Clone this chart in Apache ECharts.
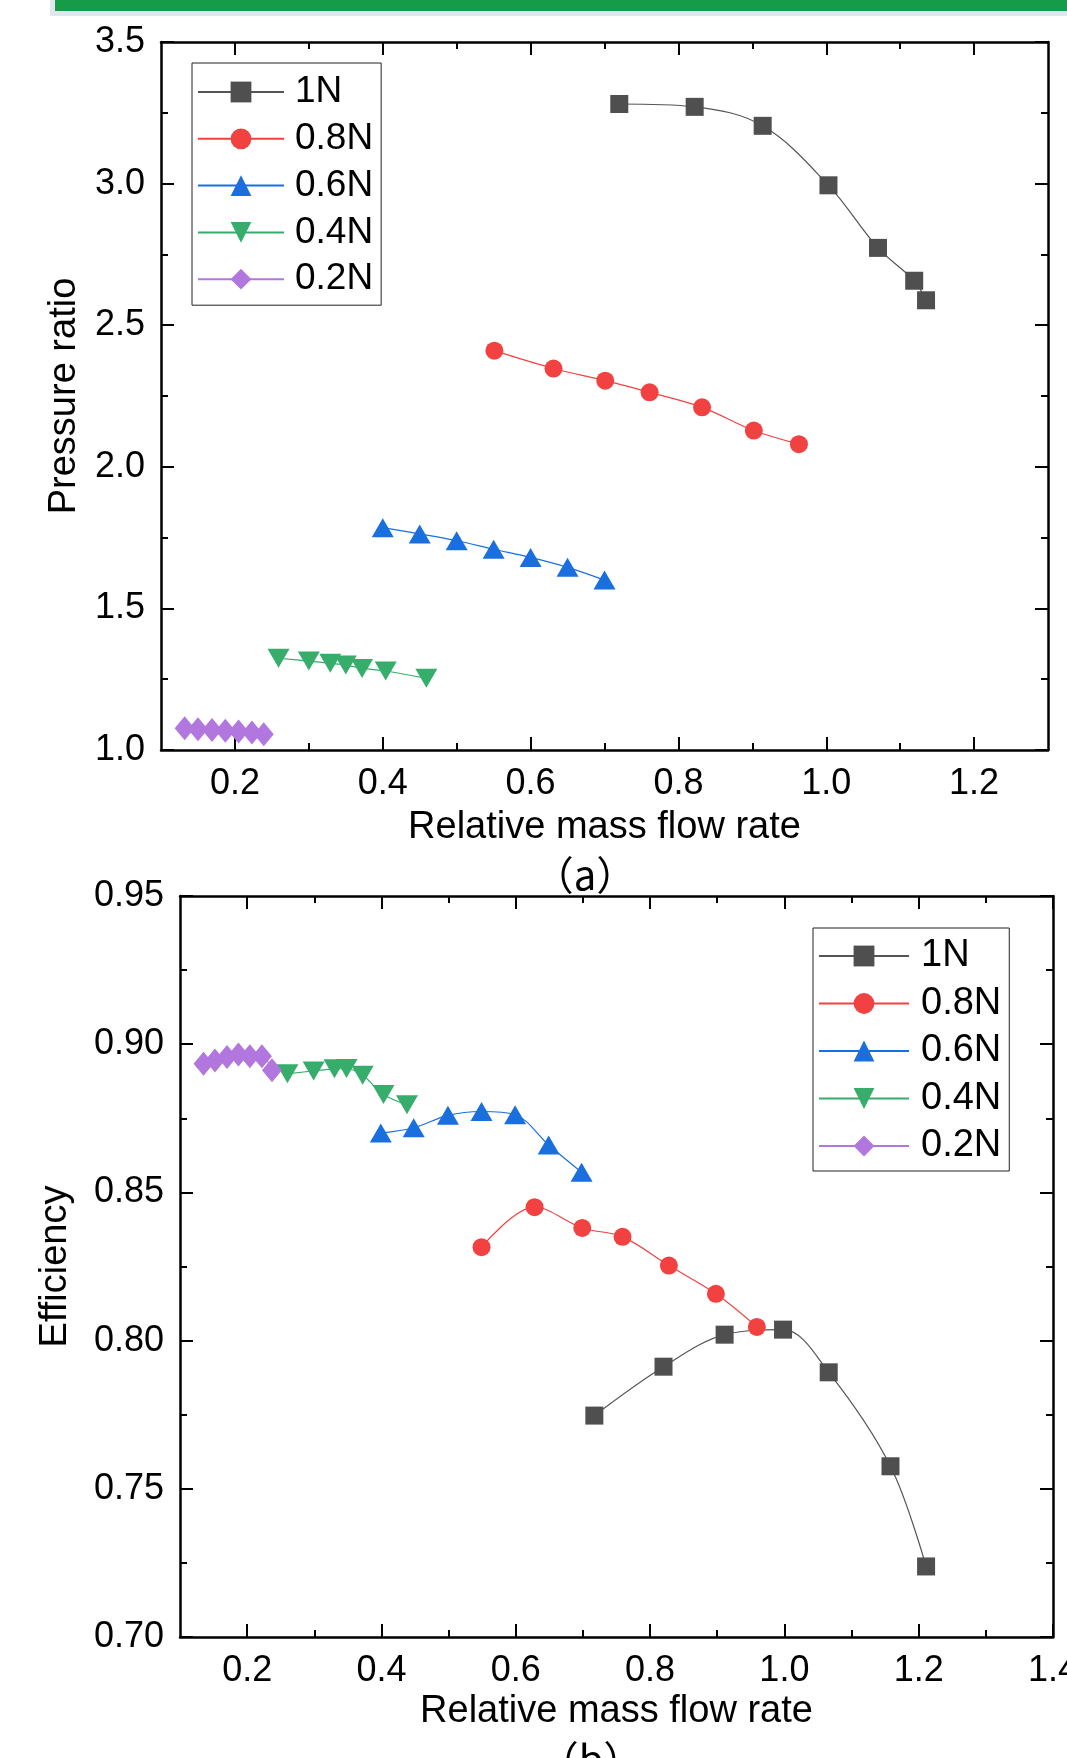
<!DOCTYPE html>
<html><head><meta charset="utf-8">
<script src="https://cdn.jsdelivr.net/npm/echarts@6/dist/echarts.min.js"></script>
<style>html,body{margin:0;padding:0;background:#fff}#c{width:1067px;height:1758px}</style>
</head><body><div id="c"></div>
<script>
const seriesNames = ['1N', '0.8N', '0.6N', '0.4N', '0.2N'];
// (a) Pressure ratio vs relative mass flow rate
const a_x_1N  = [0.720, 0.822, 0.914, 1.003, 1.070, 1.119, 1.135];
const a_y_1N  = [3.281, 3.271, 3.204, 2.994, 2.773, 2.657, 2.588];
const a_x_08N = [0.551, 0.631, 0.701, 0.761, 0.832, 0.902, 0.963];
const a_y_08N = [2.410, 2.347, 2.304, 2.263, 2.210, 2.128, 2.080];
const a_x_06N = [0.400, 0.450, 0.500, 0.550, 0.600, 0.650, 0.700];
const a_y_06N = [1.785, 1.763, 1.739, 1.709, 1.680, 1.645, 1.600];
const a_x_04N = [0.259, 0.300, 0.329, 0.350, 0.372, 0.404, 0.459];
const a_y_04N = [1.324, 1.314, 1.306, 1.300, 1.288, 1.279, 1.253];
const a_x_02N = [0.132, 0.150, 0.169, 0.187, 0.205, 0.223, 0.239];
const a_y_02N = [1.077, 1.073, 1.071, 1.068, 1.065, 1.062, 1.056];
// (b) Efficiency vs relative mass flow rate
const b_x_1N  = [0.717, 0.820, 0.911, 0.998, 1.066, 1.158, 1.211];
const b_y_1N  = [0.7747, 0.7912, 0.8020, 0.8037, 0.7893, 0.7576, 0.7238];
const b_x_08N = [0.549, 0.628, 0.699, 0.759, 0.828, 0.898, 0.959];
const b_y_08N = [0.8315, 0.8450, 0.8380, 0.8350, 0.8253, 0.8158, 0.8046];
const b_x_06N = [0.399, 0.448, 0.499, 0.549, 0.599, 0.649, 0.698];
const b_y_06N = [0.8700, 0.8718, 0.8760, 0.8773, 0.8762, 0.8660, 0.8568];
const b_x_04N = [0.260, 0.299, 0.330, 0.348, 0.372, 0.403, 0.438];
const b_y_04N = [0.8900, 0.8910, 0.8917, 0.8918, 0.8895, 0.8830, 0.8796];
const b_x_02N = [0.135, 0.152, 0.170, 0.187, 0.204, 0.222, 0.237];
const b_y_02N = [0.8934, 0.8945, 0.8957, 0.8965, 0.8959, 0.8959, 0.8912];
// tick values
const a_xMajor = [0.2, 0.4, 0.6, 0.8, 1.0, 1.2];
const a_xMinor = [0.3, 0.5, 0.7, 0.9, 1.1];
const b_xMajor = [0.2, 0.4, 0.6, 0.8, 1.0, 1.2, 1.4];
const b_xMinor = [0.3, 0.5, 0.7, 0.9, 1.1, 1.3];

const FONT = '"Liberation Sans", Arial, sans-serif';
const colors = ['#4f4f4f', '#f14141', '#1a6fdf', '#37ad6b', '#b177de'];
const lineColors = ['#555555', '#f14141', '#1a6fdf', '#37ad6b', '#b177de'];
const symbols = ['rect', 'circle', 'triangle', 'triangle', 'diamond'];
const symSizes = [18, 18, [22, 19], [22, 19], [20, 24]];
const symRot = [0, 0, 0, 180, 0];

const lineSt = {color: '#000', width: 2.5};
const tickSt = {color: '#000', width: 2};

function xAxes(gi, min, max, majors, minors, name, gap, margin) {
  const base = {type: 'value', gridIndex: gi, min, max, splitLine: {show: false}};
  return [
    Object.assign({}, base, {position: 'bottom', name, nameLocation: 'middle', nameGap: gap,
      nameTextStyle: {fontSize: 38, fontFamily: FONT, color: '#000', lineHeight: 38},
      axisLine: {show: true, onZero: false, lineStyle: lineSt},
      axisTick: {show: true, inside: true, length: 13, lineStyle: tickSt, customValues: majors},
      axisLabel: {show: true, customValues: majors, margin: margin, fontSize: 36, fontFamily: FONT, color: '#000', lineHeight: 36,
        alignMinLabel: 'center', alignMaxLabel: 'center', hideOverlap: false,
        formatter: v => v.toFixed(1)}}),
    Object.assign({}, base, {position: 'bottom',
      axisLine: {show: false, onZero: false},
      axisTick: {show: true, inside: true, length: 7, lineStyle: tickSt, customValues: minors},
      axisLabel: {show: false}}),
    Object.assign({}, base, {position: 'top',
      axisLine: {show: true, onZero: false, lineStyle: lineSt},
      axisTick: {show: true, inside: true, length: 13, lineStyle: tickSt, customValues: majors},
      axisLabel: {show: false}}),
    Object.assign({}, base, {position: 'top',
      axisLine: {show: false, onZero: false},
      axisTick: {show: true, inside: true, length: 7, lineStyle: tickSt, customValues: minors},
      axisLabel: {show: false}})
  ];
}
function yAxes(gi, min, max, interval, digits, name, gap) {
  const base = {type: 'value', gridIndex: gi, min, max, interval, splitLine: {show: false},
    axisLine: {show: true, onZero: false, lineStyle: lineSt},
    axisTick: {show: true, inside: true, length: 13, lineStyle: tickSt},
    minorTick: {show: true, splitNumber: 2, length: 7, lineStyle: tickSt}};
  return [
    Object.assign({}, base, {position: 'left', name, nameLocation: 'middle', nameGap: gap,
      nameTextStyle: {fontSize: 38, fontFamily: FONT, color: '#000', lineHeight: 38},
      axisLabel: {show: true, margin: 16, fontSize: 36, fontFamily: FONT, color: '#000',
        formatter: v => v.toFixed(digits)}}),
    Object.assign({}, base, {position: 'right', axisLabel: {show: false}})
  ];
}
function mk(i, xs, ys, gi) {
  return {
    type: 'line', name: seriesNames[i], xAxisIndex: gi * 4, yAxisIndex: gi * 2,
    data: xs.map((x, k) => [x, ys[k]]),
    smooth: 0.35, symbol: symbols[i], symbolSize: symSizes[i], symbolRotate: symRot[i],
    showSymbol: true, showAllSymbol: true, clip: false,
    itemStyle: {color: colors[i], opacity: 1},
    lineStyle: {color: lineColors[i], width: 1.2},
    emphasis: {disabled: true}, z: 2 + i * 0.01
  };
}
function legend(left, top, pad, iw, gap, fs, textPad) {
  return {
    data: seriesNames, orient: 'vertical', left, top, padding: pad,
    itemWidth: iw, itemHeight: 26, itemGap: gap, selectedMode: false,
    borderColor: '#222', borderWidth: 1, backgroundColor: '#fff', borderRadius: 0,
    textStyle: {fontSize: fs, fontFamily: FONT, color: '#000', lineHeight: 40, padding: [0, 0, 0, textPad]}
  };
}

const chart = echarts.init(document.getElementById('c'), null, {renderer: 'canvas'});
chart.setOption({
  animation: false,
  backgroundColor: '#fff',
  grid: [
    {left: 161, right: 19, top: 42, bottom: 1008, containLabel: false, outerBoundsMode: 'none'},
    {left: 180, right: 14, top: 896, bottom: 121, containLabel: false, outerBoundsMode: 'none'}
  ],
  xAxis: [].concat(
    xAxes(0, 0.1, 1.3, a_xMajor, a_xMinor, 'Relative mass flow rate', 59, 16),
    xAxes(1, 0.1, 1.4, b_xMajor, b_xMinor, 'Relative mass flow rate', 56, 16)
  ),
  yAxis: [].concat(
    yAxes(0, 1.0, 3.5, 0.5, 1, 'Pressure ratio', 77),
    yAxes(1, 0.70, 0.95, 0.05, 2, 'Efficiency', 105)
  ),
  legend: [
    legend(192, 63, [9, 8, 6, 5], 86, 6.8, 37, 6),
    legend(813, 928, [8, 8, 5, 5], 90, 7.5, 38, 7)
  ],
  graphic: [
    {type: 'rect', shape: {x: 50, y: 0, width: 1017, height: 16}, style: {fill: '#dfe7ef'}, silent: true},
    {type: 'rect', shape: {x: 55, y: 0, width: 1012, height: 11}, style: {fill: '#169b48'}, silent: true},
    {type: 'text', x: 585, y: 875, style: {text: '（a）', font: '40px "Noto Sans CJK SC"', fill: '#000', align: 'center', verticalAlign: 'middle'}, silent: true},
    {type: 'text', x: 591, y: 1760, style: {text: '（b）', font: '40px "Noto Sans CJK SC"', fill: '#000', align: 'center', verticalAlign: 'middle'}, silent: true}
  ],
  series: [
    mk(0, a_x_1N, a_y_1N, 0), mk(1, a_x_08N, a_y_08N, 0), mk(2, a_x_06N, a_y_06N, 0),
    mk(3, a_x_04N, a_y_04N, 0), mk(4, a_x_02N, a_y_02N, 0),
    mk(0, b_x_1N, b_y_1N, 1), mk(1, b_x_08N, b_y_08N, 1), mk(2, b_x_06N, b_y_06N, 1),
    mk(3, b_x_04N, b_y_04N, 1), mk(4, b_x_02N, b_y_02N, 1)
  ]
});
</script>
</body></html>
